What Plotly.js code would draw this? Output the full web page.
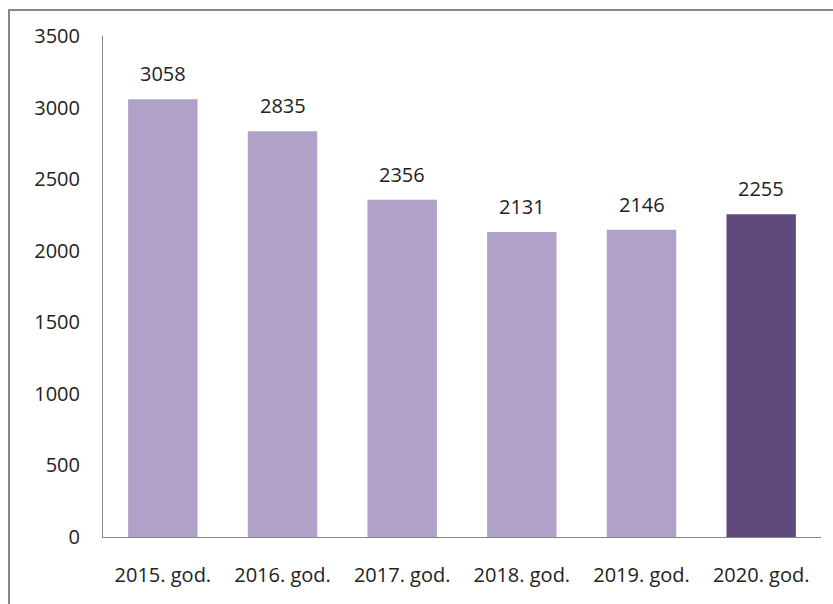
<!DOCTYPE html>
<html>
<head>
<meta charset="utf-8">
<script src="https://cdn.plot.ly/plotly-3.0.1.min.js"></script>
<style>
  html, body { margin: 0; padding: 0; background: #fff; overflow: hidden; }
  #wrap { position: relative; width: 833px; height: 604px; }
  #frame { position: absolute; left: 8px; top: 9px; width: 900px; height: 700px; border-left: 2px solid #868686; border-top: 2px solid #868686; pointer-events: none; }
  #chart { position: absolute; left: 0; top: 0; width: 833px; height: 604px; }
</style>
</head>
<body>
<div id="wrap">
  <div id="chart"></div>
  <div id="frame"></div>
</div>
<script>
const categories = ["2015. god.", "2016. god.", "2017. god.", "2018. god.", "2019. god.", "2020. god."];
const values = [3058, 2835, 2356, 2131, 2146, 2255];
const barColors = ["#B1A0C7", "#B1A0C7", "#B1A0C7", "#B1A0C7", "#B1A0C7", "#604A7B"];
const yTicks = [0, 500, 1000, 1500, 2000, 2500, 3000, 3500];

const font = "'Open Sans', sans-serif";

const trace = {
  type: "bar",
  x: categories,
  y: values,
  marker: { color: barColors, line: { width: 0 } },
  hoverinfo: "none"
};

const annotations = categories.map((c, i) => ({
  x: c, y: values[i], text: String(values[i]),
  xref: "x", yref: "y", showarrow: false,
  yanchor: "bottom", yshift: 10,
  font: { family: font, size: 20, color: "#222" }
}));

const layout = {
  width: 833, height: 604,
  margin: { l: 103, r: 12, t: 36, b: 67, pad: 0 },
  paper_bgcolor: "#fff", plot_bgcolor: "#fff",
  showlegend: false,
  bargap: 0.42,
  xaxis: {
    type: "category",
    showline: true, linecolor: "#868686", linewidth: 1,
    ticks: "", showgrid: false, zeroline: false,
    tickfont: { family: font, size: 20, color: "#222" },
    ticklabelstandoff: 20
  },
  yaxis: {
    range: [0, 3500],
    tickvals: yTicks, ticktext: yTicks.map(String),
    showline: true, linecolor: "#868686", linewidth: 1,
    ticks: "", showgrid: false, zeroline: false,
    tickfont: { family: font, size: 20, color: "#222" },
    ticklabelstandoff: 18
  },
  annotations: annotations
};

Plotly.newPlot("chart", [trace], layout, { displayModeBar: false, staticPlot: true });
</script>
</body>
</html>
